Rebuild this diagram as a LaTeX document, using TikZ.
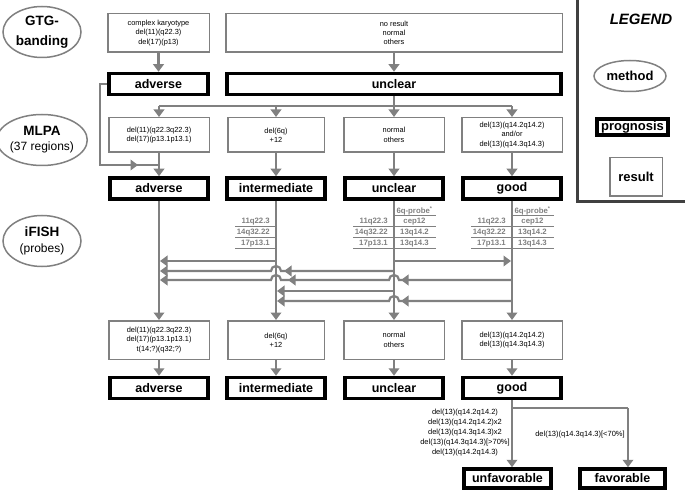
\documentclass[tikz,border=0pt]{standalone}
\usepackage{fontspec}
\setmainfont{Liberation Sans}
\usetikzlibrary{shapes.geometric,arrows.meta,calc}
\definecolor{lg}{HTML}{808080}
\definecolor{dg}{HTML}{404040}
\newcommand\myfs[2]{\fontsize{#1}{#2}\selectfont}
\begin{document}
\begin{tikzpicture}[x=1pt,y=-1pt,
  res/.style={draw=lg, line width=1.5pt, align=center, inner sep=0pt, font=\myfs{7.4}{9.3}},
  prog/.style={draw=black, line width=3.5pt, inner sep=0pt, font=\bfseries\myfs{12.5}{14}, minimum width=98pt, minimum height=21pt},
  meth/.style={ellipse, draw=lg, line width=1.5pt, inner sep=0pt, align=center, minimum width=78pt, minimum height=51pt},
  ln/.style={draw=lg, line width=2.2pt},
  arr/.style={ln, -{Triangle[length=7.5pt,width=10.5pt]}},
  probe/.style={text=lg, font=\bfseries\myfs{7.8}{9}, inner sep=0pt},
  ul/.style={draw=lg, line width=0.9pt}]
\useasboundingbox (0,0) rectangle (685,494);

% method ovals
\node[meth, font=\bfseries\myfs{13.5}{20}] (gtg) at (42,32) {GTG-\\banding};
\node[meth, font=\myfs{12}{15}] (mlpa) at (42,140) {{\bfseries\myfs{13.5}{15}MLPA}\\(37 regions)};
\node[meth, font=\myfs{12}{16}] (fish) at (42,241) {{\bfseries\myfs{13.5}{16}iFISH}\\(probes)};

% top row
\node[res, minimum width=101.5pt, minimum height=38.5pt] (kar) at (158.5,33) {complex karyotype\\del(11)(q22.3)\\del(17)(p13)};
\node[res, minimum width=336.5pt, minimum height=38.5pt] (nor) at (394,33) {no result\\normal\\others};
\node[prog, minimum width=99pt] (adv0) at (158.5,84) {adverse};
\node[prog, minimum width=334pt] (unc0) at (394,84) {unclear};

% MLPA row
\node[res, minimum width=100.5pt, minimum height=34.5pt] (m1) at (159,135) {del(11)(q22.3q22.3)\\del(17)(p13.1p13.1)};
\node[res, minimum width=96.5pt, minimum height=34.5pt] (m2) at (276,135) {del(6q)\\+12};
\node[res, minimum width=100.5pt, minimum height=34.5pt] (m3) at (394,135) {normal\\others};
\node[res, minimum width=100.5pt, minimum height=34.5pt] (m4) at (512,135) {del(13)(q14.2q14.2)\\and/or\\del(13)(q14.3q14.3)};
\node[prog] (p1) at (159,188.5) {adverse};
\node[prog] (p2) at (276,188.5) {intermediate};
\node[prog] (p3) at (394,188.5) {unclear};
\node[prog] (p4) at (512,188.5) {good};

% iFISH row
\node[res, minimum width=100.5pt, minimum height=38.5pt] (b1) at (159,340) {del(11)(q22.3q22.3)\\del(17)(p13.1p13.1)\\t(14;?)(q32;?)};
\node[res, minimum width=96.5pt, minimum height=38.5pt] (b2) at (276,340) {del(6q)\\+12};
\node[res, minimum width=100.5pt, minimum height=38.5pt] (b3) at (394,340) {normal\\others};
\node[res, minimum width=100.5pt, minimum height=38.5pt] (b4) at (512,340) {del(13)(q14.2q14.2)\\del(13)(q14.3q14.3)};
\node[prog] (q1) at (159,388) {adverse};
\node[prog] (q2) at (276,388) {intermediate};
\node[prog] (q3) at (394,388) {unclear};
\node[prog] (q4) at (512,388) {good};

% final
\node[prog, minimum width=87pt, minimum height=19pt] (unf) at (507.5,478.5) {unfavorable};
\node[prog, minimum width=85pt, minimum height=19pt] (fav) at (622.5,478.5) {favorable};
\node[font=\myfs{7.5}{10}, align=center, inner sep=0pt] (lab1) at (465,433) {del(13)(q14.2q14.2)\\del(13)(q14.2q14.2)x2\\del(13)(q14.3q14.3)x2\\del(13)(q14.3q14.3)[>70\%]\\del(13)(q14.2q14.3)};
\node[font=\myfs{7.5}{10}, inner sep=0pt] (lab2) at (580,435) {del(13)(q14.3q14.3)[<70\%]};

% top connectors
\draw[arr] (kar) -- (adv0);
\draw[arr] (nor) -- (unc0);
\coordinate (hb) at (0,106);
\draw[ln] (unc0.south) -- (unc0.south |- hb);
\draw[ln] (m1.north |- hb) -- (m4.north |- hb);
\foreach \n in {m1,m2,m3,m4} \draw[arr] (\n.north |- hb) -- (\n.north);
\coordinate (byp) at (100,165);
\draw[ln] (adv0.west) -| (byp) -- (byp -| m1.south);
\draw[arr] (118,165) -- (138,165);

\foreach \i in {1,...,4} {
  \draw[arr] (m\i) -- (p\i);
  \draw[arr] (p\i) -- (b\i);
  \draw[arr] (b\i) -- (q\i);
}

% iFISH horizontal arrows
\draw[arr] (276,261) -- (160,261);
\draw[arr] (394,261) -- (511,261);
\draw[arr] (394,271) -- (281,271) arc[start angle=0,end angle=-180,radius=5] -- (160,271);
\draw[arr] (300,271) -- (284,271);
\draw[arr] (512,280) -- (399,280) arc[start angle=0,end angle=-180,radius=5] -- (281,280) arc[start angle=0,end angle=-180,radius=5] -- (160,280);
\draw[arr] (420,280) -- (401,280);
\draw[arr] (305,280) -- (288,280);
\draw[arr] (394,291) -- (277,291);
\draw[arr] (512,301) -- (399,301) arc[start angle=0,end angle=-180,radius=5] -- (277,301);
\draw[arr] (420,301) -- (401,301);

% probe labels
\foreach \x/\n in {276/i,394/u,512/g} {
  \node[probe, anchor=east] (a\n) at (\x-6,222) {11q22.3};
  \node[probe, anchor=east] (b\n) at (\x-6,233) {14q32.22};
  \node[probe, anchor=east] (c\n) at (\x-6,244) {17p13.1};
  \draw[ul] (\x-41,226.5) -- (\x,226.5);
  \draw[ul] (\x-41,237.5) -- (\x,237.5);
  \draw[ul] (\x-41,248.5) -- (\x,248.5);
}
\foreach \x/\n in {394/u,512/g} {
  \node[probe] (d\n) at (\x+20.5,211) {6q-probe\textsuperscript{*}};
  \node[probe] (e\n) at (\x+20.5,222) {cep12};
  \node[probe] (f\n) at (\x+20.5,233) {13q14.2};
  \node[probe] (g\n) at (\x+20.5,244) {13q14.3};
  \draw[ul] (\x,215.5) -- (\x+42,215.5);
  \draw[ul] (\x,226.5) -- (\x+42,226.5);
  \draw[ul] (\x,237.5) -- (\x+42,237.5);
  \draw[ul] (\x,248.5) -- (\x+42,248.5);
}

% outcome
\coordinate (fb) at (628,408);
\draw[ln] (q4.south) -- (q4.south |- fb) -- (fb);
\draw[arr] (fb) -- (fb |- fav.north);
\draw[arr] (q4.south) -- (q4.south |- unf.north);

% legend
\draw[line width=3pt, draw=dg] (577,0) -- (577,202) -- (685,202);
\node[font=\bfseries\itshape\myfs{15}{17}, inner sep=0pt] (leg) at (641,19) {LEGEND};
\node[meth, minimum width=72pt, minimum height=31pt, font=\bfseries\myfs{13}{15}] (lm) at (630,76) {method};
\node[prog, minimum width=71pt, minimum height=16pt, font=\bfseries\myfs{13}{15}] (lp) at (632.5,127) {prognosis};
\node[res, minimum width=52.5pt, minimum height=38.5pt, font=\bfseries\myfs{13}{15}] (lr) at (636,177) {result};
\end{tikzpicture}
\end{document}
